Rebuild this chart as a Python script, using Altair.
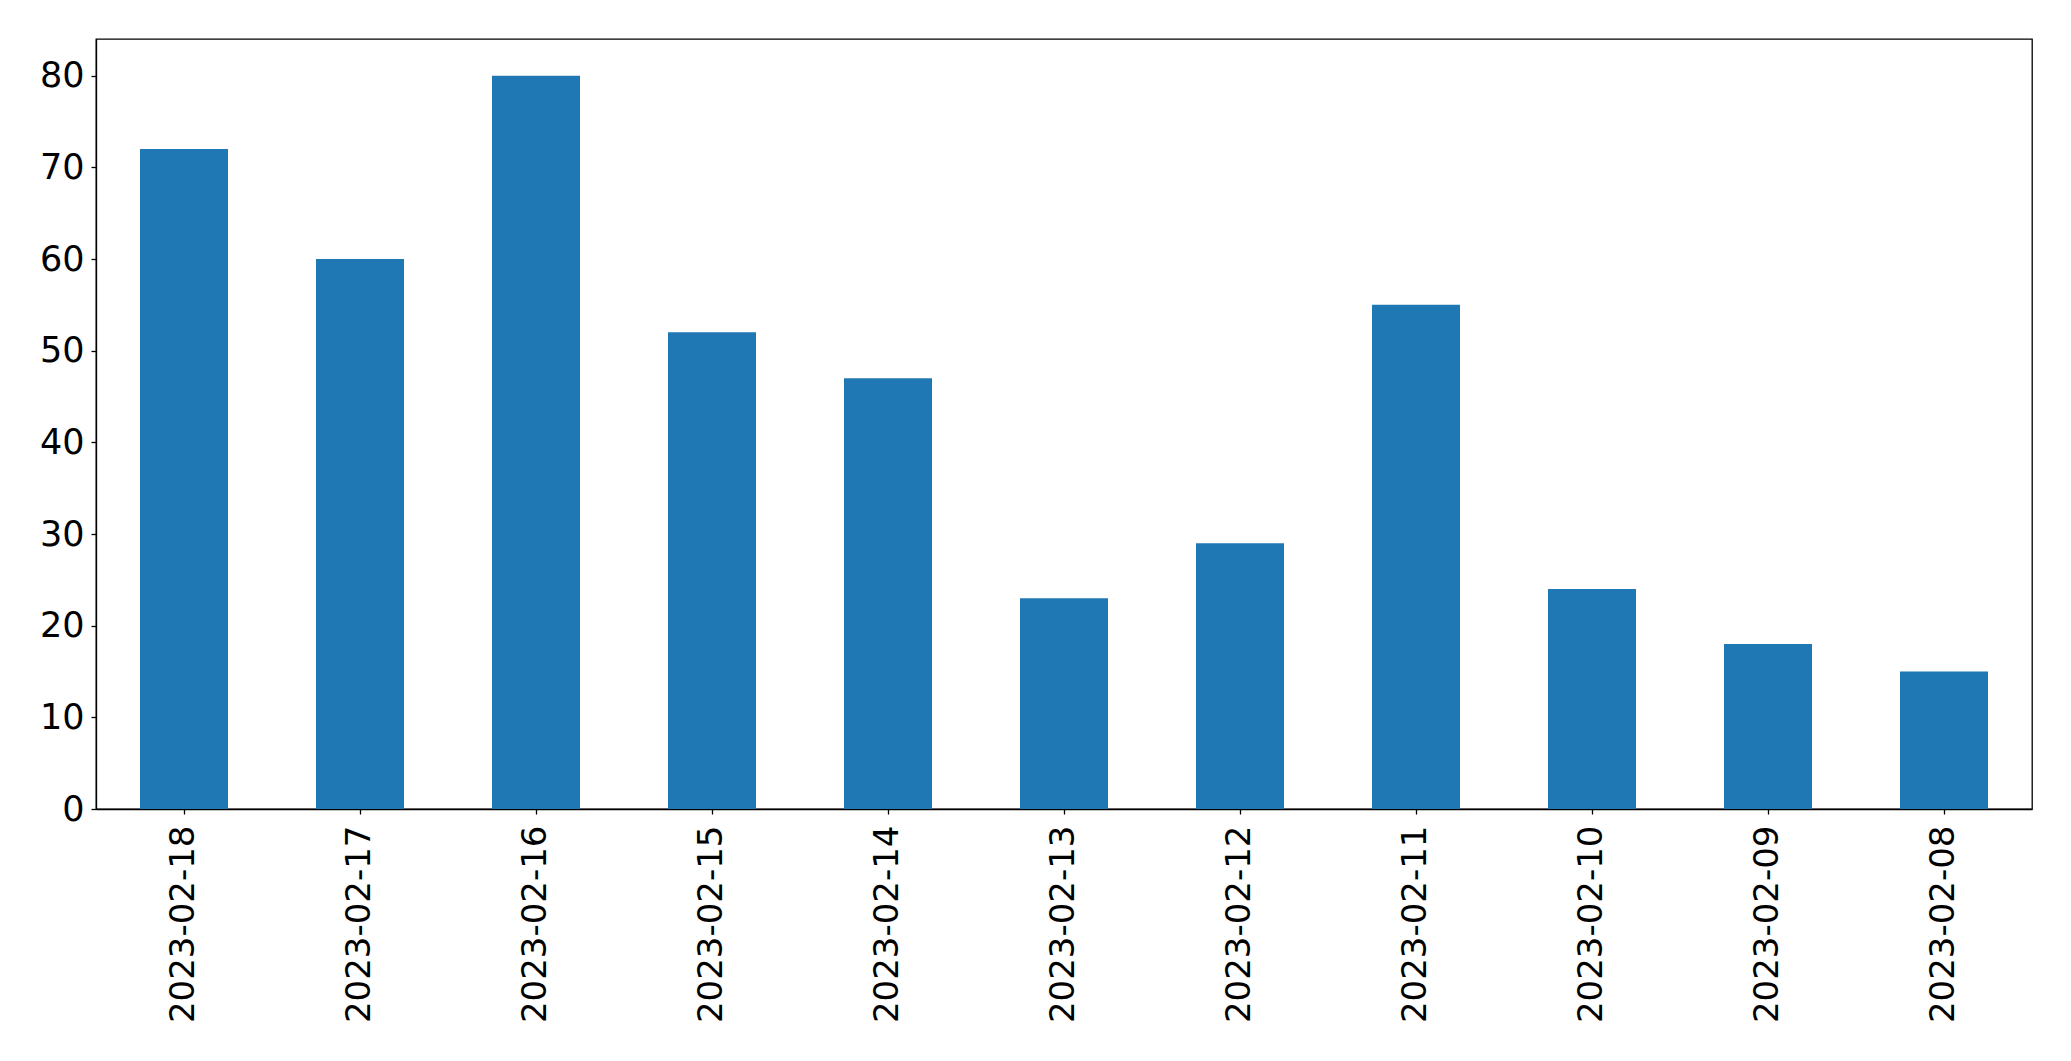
import altair as alt
import pandas as pd

dates = ["2023-02-18", "2023-02-17", "2023-02-16", "2023-02-15", "2023-02-14",
         "2023-02-13", "2023-02-12", "2023-02-11", "2023-02-10", "2023-02-09",
         "2023-02-08"]
values = [72, 60, 80, 52, 47, 23, 29, 55, 24, 18, 15]
y_ticks = [0, 10, 20, 30, 40, 50, 60, 70, 80]

df = pd.DataFrame({"date": dates, "value": values})

FONT = "DejaVu Sans"

chart = alt.Chart(df).mark_bar(color="#1f77b4").encode(
    x=alt.X("date:N", sort=None, title=None,
            scale=alt.Scale(paddingInner=0.5, paddingOuter=0.25),
            axis=alt.Axis(labelAngle=-90, labelFontSize=34, labelFont=FONT,
                          labelColor="black", tickColor="black", domainColor="black",
                          tickSize=5, labelPadding=11, domainWidth=1.3, tickWidth=1.3,
                          labelLimit=500)),
    y=alt.Y("value:Q", title=None,
            scale=alt.Scale(domain=[0, 84], nice=False, zero=True),
            axis=alt.Axis(values=y_ticks, labelFontSize=35, labelFont=FONT,
                          labelColor="black", tickColor="black", domainColor="black",
                          tickSize=5, labelPadding=7, grid=False, domainWidth=1.3,
                          tickWidth=1.3)),
).properties(
    width=1936, height=770,
    padding={"left": 31, "top": 31, "right": 5, "bottom": 5},
).configure(
    background="white"
).configure_view(
    stroke="black", strokeWidth=1.3
)

chart.save("out.html", embed_options={"renderer": "svg", "actions": False})
